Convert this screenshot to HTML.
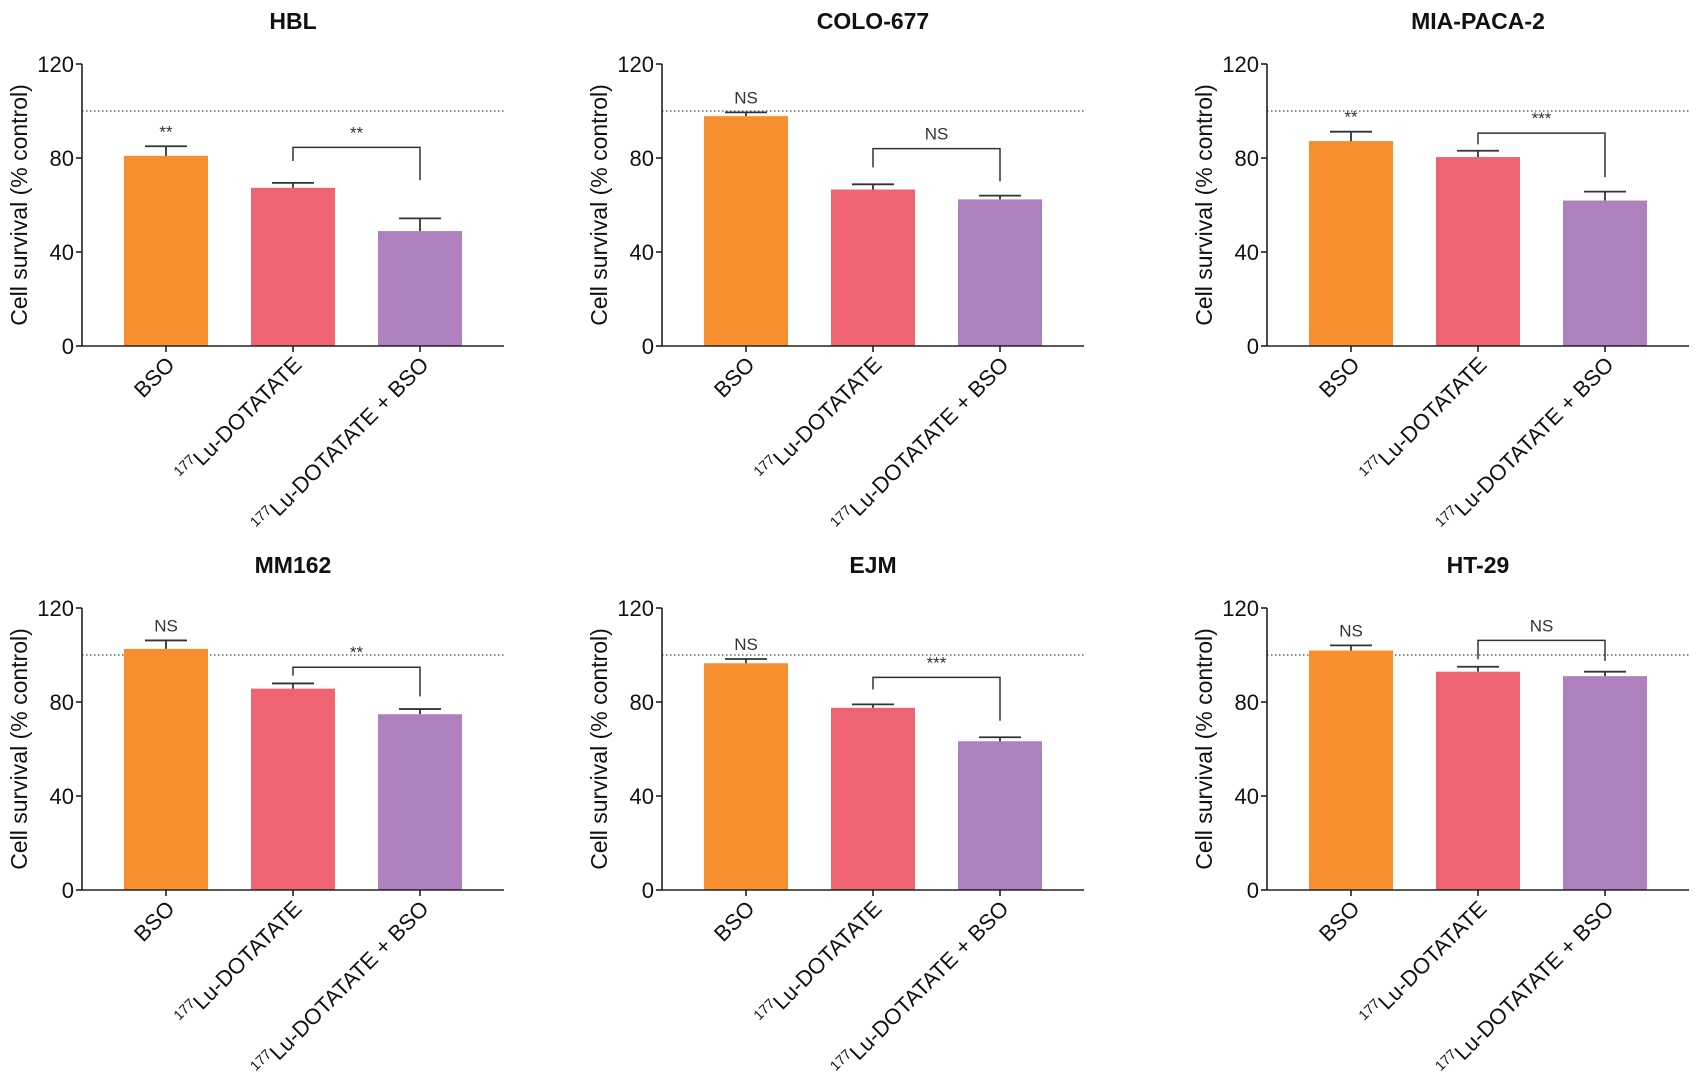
<!DOCTYPE html>
<html><head><meta charset="utf-8"><style>
html,body{margin:0;padding:0;background:#fff;}
svg{display:block;font-family:"Liberation Sans",Arial,sans-serif;}
</style></head><body>
<svg id="chart" width="1699" height="1080" viewBox="0 0 1699 1080" xmlns="http://www.w3.org/2000/svg"></svg>
<script>
const panelTitles = ["HBL","COLO-677","MIA-PACA-2","MM162","EJM","HT-29"];
const categories = ["BSO","Lu-DOTATATE","Lu-DOTATATE + BSO"];
const yTicks = [0,40,80,120];
const meanHBL = [80.9,67.3,48.9];   const errHBL = [4.1,2.1,5.4];
const meanCOLO = [97.8,66.6,62.4];  const errCOLO = [1.6,2.2,1.6];
const meanMIA = [87.2,80.4,61.9];   const errMIA = [4.0,2.7,3.8];
const meanMM = [102.6,85.7,74.8];   const errMM = [3.6,2.2,2.2];
const meanEJM = [96.5,77.5,63.3];   const errEJM = [1.8,1.5,1.7];
const meanHT = [101.9,92.9,91.0];   const errHT = [2.2,2.1,1.9];
const bsoLabels = ["**","NS","**","NS","NS","NS"];
const bracketLabels = ["**","NS","***","**","***","NS"];
const bracketTop = [84.5,84,90.6,94.8,90.5,106.2];
const bracketLeftEnd = [78.7,76,85.8,91.2,85.3,98.2];
const bracketRightEnd = [70.6,70,71.8,82.4,72,97.5];
const controlLevel = 100;

const means=[meanHBL,meanCOLO,meanMIA,meanMM,meanEJM,meanHT];
const errs=[errHBL,errCOLO,errMIA,errMM,errEJM,errHT];
const colors=["#F78F2E","#EE6473","#AF80BE"];
const axX=[82,662,1267], rowY0=[346,890], plotH=282, plotW=422;
const NS="http://www.w3.org/2000/svg";
const svg=document.getElementById('chart');
function mk(tag,attrs,parent){const e=document.createElementNS(NS,tag);for(const k in attrs)e.setAttribute(k,attrs[k]);(parent||svg).appendChild(e);return e;}

for(let p=0;p<6;p++){
  const ax=axX[p%3], y0=rowY0[Math.floor(p/3)];
  const g=mk('g',{});
  
  
  const ys=v=>y0-v/120*plotH;
  const xs=i=>ax+84+i*127;
  const t=mk('text',{x:ax+211,y:y0-317,'text-anchor':'middle','font-size':23,'font-weight':'bold',fill:'#111'},g);
  t.textContent=panelTitles[p];
  
  
  // y title
  const yt=mk('text',{x:0,y:0,transform:`translate(${ax-55},${y0-141}) rotate(-90)`,'text-anchor':'middle','font-size':23,fill:'#111'},g);
  yt.textContent='Cell survival (% control)';
  
  
  // dotted control
  const dl=mk('line',{x1:ax,x2:ax+plotW,y1:ys(controlLevel),y2:ys(controlLevel),stroke:'#666','stroke-width':1.5,'stroke-dasharray':'1.5 2.5'},g);
  
  
  // bars
  for(let i=0;i<3;i++){
    const m=means[p][i], e=errs[p][i];
    const r=mk('rect',{x:xs(i)-42,y:ys(m),width:84,height:ys(0)-ys(m),fill:colors[i]},g);
    
    
    const el=mk('path',{d:`M${xs(i)},${ys(m)}V${ys(m+e)}M${xs(i)-21},${ys(m+e)}H${xs(i)+21}`,stroke:'#333','stroke-width':1.8,fill:'none'},g);
    
    
  }
  // bso significance
  const bl=mk('text',{x:xs(0),y:ys(means[p][0]+errs[p][0])-9,'text-anchor':'middle','font-size':17,fill:'#333'},g);
  bl.textContent=bsoLabels[p];
  
  
  // bracket
  const br=mk('path',{d:`M${xs(1)},${ys(bracketLeftEnd[p])}V${ys(bracketTop[p])}H${xs(2)}V${ys(bracketRightEnd[p])}`,stroke:'#333','stroke-width':1.5,fill:'none'},g);
  
  
  const bt=mk('text',{x:(xs(1)+xs(2))/2,y:ys(bracketTop[p])-9,'text-anchor':'middle','font-size':17,fill:'#333'},g);
  bt.textContent=bracketLabels[p];
  
  
  // axes
  const axes=mk('path',{d:`M${ax},${ys(120)}V${y0}H${ax+plotW}`,stroke:'#222','stroke-width':1.6,fill:'none'},g);
  
  
  yTicks.forEach(v=>{
    mk('line',{x1:ax-6,x2:ax,y1:ys(v),y2:ys(v),stroke:'#222','stroke-width':1.6},g);
    const tl=mk('text',{x:ax-8,y:ys(v)+8,'text-anchor':'end','font-size':22,fill:'#111'},g);
    tl.textContent=v;
    
    
  });
  for(let i=0;i<3;i++){
    mk('line',{x1:xs(i),x2:xs(i),y1:y0,y2:y0+6,stroke:'#222','stroke-width':1.6},g);
    const xl=mk('text',{x:0,y:0,transform:`translate(${xs(i)+10},${y0+20}) rotate(-45)`,'text-anchor':'end','font-size':22,fill:'#111'},g);
    
    
    if(i===0){xl.textContent=categories[0];}
    else{
      const s=mk('tspan',{'font-size':14,dy:-9},xl); s.textContent='177';
      const r=mk('tspan',{dy:9},xl); r.textContent=categories[i];
    }
  }
}
</script>
</body></html>
